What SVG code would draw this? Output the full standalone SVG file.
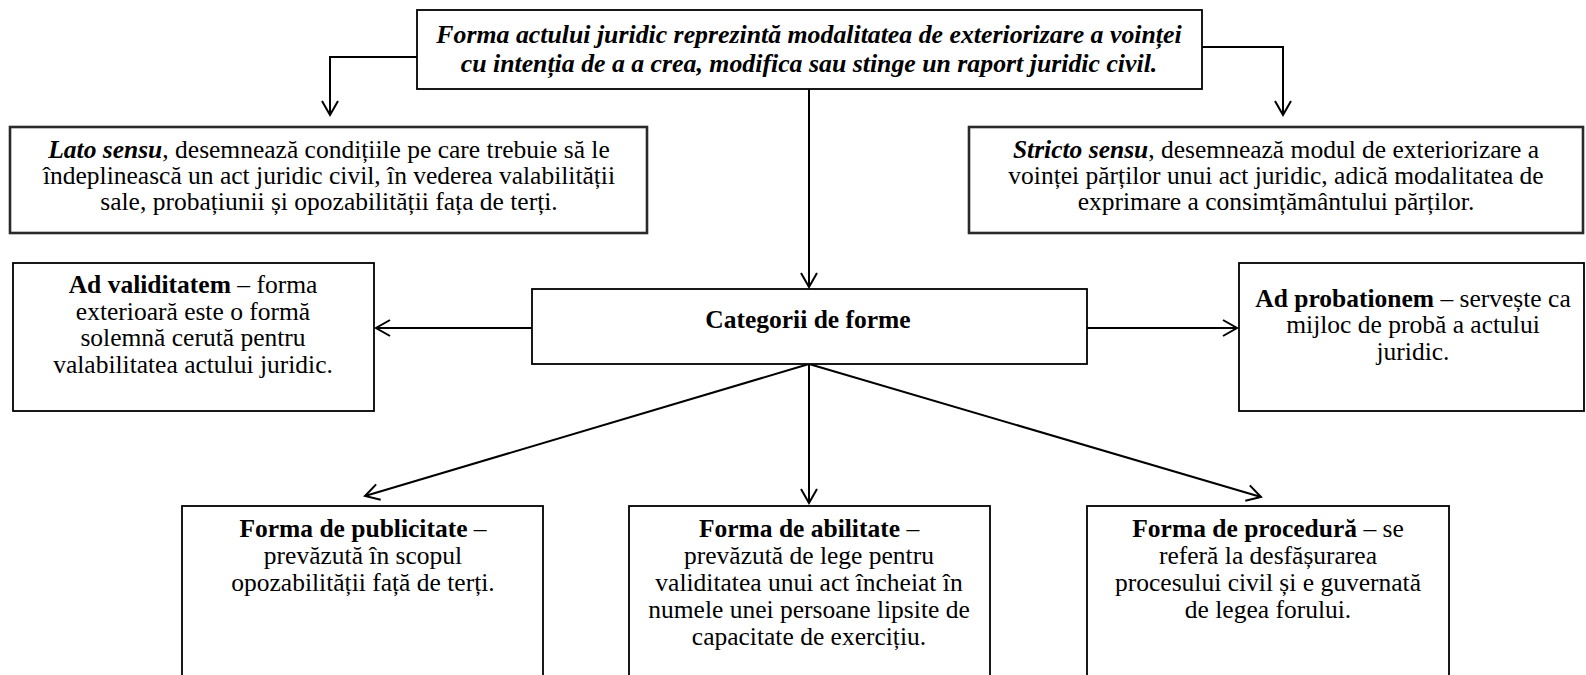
<svg xmlns="http://www.w3.org/2000/svg" width="1586" height="675" viewBox="0 0 1586 675">
<style>
text{font-family:'Liberation Serif','Times New Roman',serif;font-size:25.5px;fill:#000;text-anchor:middle}
.top{font-size:25.8px;font-weight:bold;font-style:italic}
.b{font-weight:bold}
.bi{font-weight:bold;font-style:italic}
.box{fill:#fff;stroke:#000;stroke-width:1.8}
.box2{fill:#fff;stroke:#2a2a2a;stroke-width:2.6}
.con{fill:none;stroke:#000;stroke-width:2}
</style>
<defs>
<marker id="arr" markerUnits="userSpaceOnUse" markerWidth="20" markerHeight="20" viewBox="-16 -10 18 20" refX="0" refY="0" orient="auto">
<path d="M-14,-8 L0,0 L-14,8" fill="none" stroke="#000" stroke-width="2"/>
</marker>
</defs>
<rect width="1586" height="675" fill="#fff"/>
<g id="connectors">
<polyline class="con" points="417,57 330,57 330,115" marker-end="url(#arr)"/>
<polyline class="con" points="1202,47 1283,47 1283,115" marker-end="url(#arr)"/>
<line class="con" x1="809" y1="89" x2="809" y2="287" marker-end="url(#arr)"/>
<line class="con" x1="532" y1="328" x2="376" y2="328" marker-end="url(#arr)"/>
<line class="con" x1="1087" y1="328" x2="1237" y2="328" marker-end="url(#arr)"/>
<line class="con" x1="809" y1="364" x2="365" y2="496" marker-end="url(#arr)"/>
<line class="con" x1="809" y1="364" x2="809" y2="503" marker-end="url(#arr)"/>
<line class="con" x1="809" y1="364" x2="1261" y2="497" marker-end="url(#arr)"/>
</g>
<g id="node-top">
<rect class="box" x="417" y="10" width="785" height="79"/>
<text class="top" x="809" y="43">Forma actului juridic reprezintă modalitatea de exteriorizare a voinței</text>
<text class="top" x="809" y="72">cu intenția de a a crea, modifica sau stinge un raport juridic civil.</text>
</g>
<g id="node-lato">
<rect class="box2" x="10" y="127" width="637" height="106"/>
<text x="329" y="158"><tspan class="bi">Lato sensu</tspan>, desemnează condițiile pe care trebuie să le</text>
<text x="329" y="184">îndeplinească un act juridic civil, în vederea valabilității</text>
<text x="329" y="210">sale, probațiunii și opozabilității fața de terți.</text>
</g>
<g id="node-stricto">
<rect class="box2" x="969" y="127" width="614" height="106"/>
<text x="1276" y="158"><tspan class="bi">Stricto sensu</tspan>, desemnează modul de exteriorizare a</text>
<text x="1276" y="184">voinței părților unui act juridic, adică modalitatea de</text>
<text x="1276" y="210">exprimare a consimțământului părților.</text>
</g>
<g id="node-validitatem">
<rect class="box" x="13" y="263" width="361" height="148"/>
<text x="193" y="293"><tspan class="b">Ad validitatem</tspan> – forma</text>
<text x="193" y="319.5">exterioară este o formă</text>
<text x="193" y="346">solemnă cerută pentru</text>
<text x="193" y="372.5">valabilitatea actului juridic.</text>
</g>
<g id="node-categorii">
<rect class="box" x="532" y="289" width="555" height="75"/>
<text class="b" x="808" y="328">Categorii de forme</text>
</g>
<g id="node-probationem">
<rect class="box" x="1239" y="263" width="345" height="148"/>
<text x="1413" y="307"><tspan class="b">Ad probationem</tspan> – servește ca</text>
<text x="1413" y="333">mijloc de probă a actului</text>
<text x="1413" y="359.5">juridic.</text>
</g>
<g id="node-publicitate">
<rect class="box" x="182" y="506" width="361" height="180"/>
<text x="363" y="537"><tspan class="b">Forma de publicitate</tspan> –</text>
<text x="363" y="564">prevăzută în scopul</text>
<text x="363" y="591">opozabilității față de terți.</text>
</g>
<g id="node-abilitate">
<rect class="box" x="629" y="506" width="361" height="180"/>
<text x="809" y="537"><tspan class="b">Forma de abilitate</tspan> –</text>
<text x="809" y="564">prevăzută de lege pentru</text>
<text x="809" y="591">validitatea unui act încheiat în</text>
<text x="809" y="618">numele unei persoane lipsite de</text>
<text x="809" y="645">capacitate de exercițiu.</text>
</g>
<g id="node-procedura">
<rect class="box" x="1087" y="506" width="362" height="180"/>
<text x="1268" y="537"><tspan class="b">Forma de procedură</tspan> – se</text>
<text x="1268" y="564">referă la desfășurarea</text>
<text x="1268" y="591">procesului civil și e guvernată</text>
<text x="1268" y="618">de legea forului.</text>
</g>
</svg>
